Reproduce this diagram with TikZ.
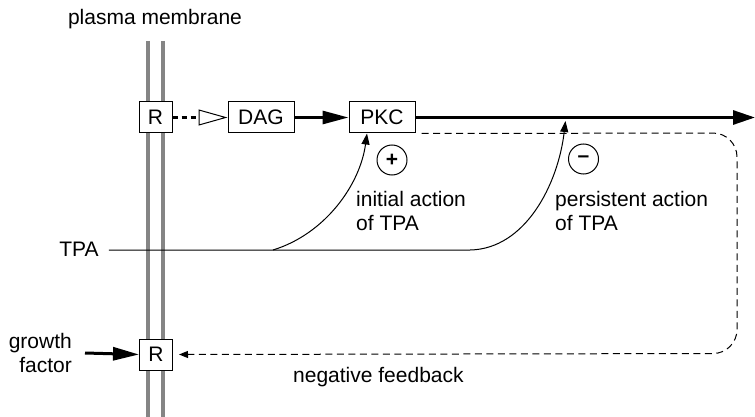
\documentclass[tikz,border=0pt]{standalone}
\usepackage{fontspec}
\setmainfont{Liberation Sans}
\usetikzlibrary{arrows.meta}
\begin{document}
\begin{tikzpicture}[x=1pt,y=-1pt,
  every node/.style={font=\fontsize{21}{24.5}\selectfont},
  box/.style={draw,line width=1pt,fill=white,inner sep=0pt,minimum height=31pt},
  membr/.style={line width=4pt,draw=black!48},
  thickarrow/.style={line width=3pt,-{Triangle[length=26pt,width=13pt]}},
  sign/.style={draw,circle,line width=1pt,minimum size=30pt,inner sep=0pt},
  lbl/.style={align=left,inner sep=0pt}]
\useasboundingbox (0,0) rectangle (755,417);
% membrane
\draw[membr] (148,41) -- (148,417);
\draw[membr] (162.5,41) -- (162.5,417);
\node (pm) at (155,19) {plasma membrane};
% boxes
\node[box,minimum width=33pt] (R1) at (155.5,117.5) {R};
\node[box,minimum width=66pt] (DAG) at (261,117.5) {DAG};
\node[box,minimum width=66pt] (PKC) at (382,117.5) {PKC};
\node[box,minimum width=33pt] (R2) at (156,354.5) {R};
% top chain
\draw[line width=3pt,dash pattern=on 5.5pt off 3.5pt,-{Triangle[open,length=29pt,width=16pt,line width=1pt]}] (R1) -- (DAG);
\draw[thickarrow] (DAG) -- (PKC);
\coordinate (out) at (755,117.5);
\draw[line width=3pt,-{Triangle[length=22pt,width=14pt]}] (PKC) -- (out);
% TPA
\node[inner sep=0pt] (TPA) at (79,249) {TPA};
\coordinate (b1) at (273,250);
\coordinate (b2) at (470,250);
\coordinate (t2) at (565.5,121);
\draw[line width=1pt,-{Triangle[length=11pt,width=8pt]}] (TPA.east |- b2) ++(10,0) -- (b2) .. controls (525,249) and (558,185) .. (t2);
\draw[line width=1pt,-{Triangle[length=11pt,width=8pt]}] (b1) .. controls (325,234) and (360,185) .. ([xshift=-15pt]PKC.south);
% signs
\node[sign] (plus) at (392,160) {\textbf{+}};
\node[sign] (minus) at (583.5,159) {\textbf{–}};
\node[lbl,anchor=north west] (ia) at (356,191) {initial action\\of TPA};
\node[lbl,anchor=north west] (pa) at (555,191) {persistent action\\of TPA};
% growth factor
\node[lbl,align=right,anchor=east] (gf) at (72,353) {growth\\factor};
\draw[thickarrow] (gf.east) ++(13,0) -- (R2.west);
% negative feedback
\draw[line width=1pt,dash pattern=on 7pt off 4.5pt,rounded corners=24pt,-{Triangle[length=9pt,width=7pt]}]
  ([xshift=6pt]PKC.south east) -- (737,133) -- (737,353.5) -- ([xshift=6pt]R2.east);
\node[inner sep=0pt,anchor=base west] (nf) at (293,382) {negative feedback};
\end{tikzpicture}
\end{document}
